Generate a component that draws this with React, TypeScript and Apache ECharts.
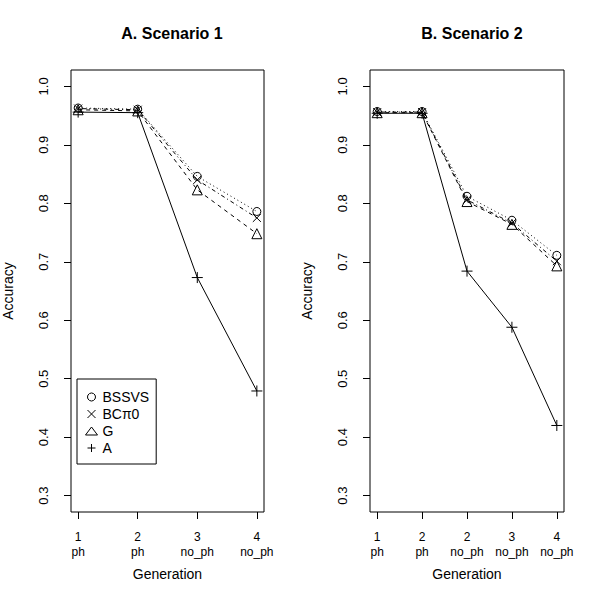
import React, { useEffect, useRef } from "react";
import * as echarts from "echarts";

const seriesNames = ["BSSVS", "BCπ0", "G", "A"];

const gen1 = [1, 2, 3, 4];
const gen1Labels = ["1\nph", "2\nph", "3\nno_ph", "4\nno_ph"];
const s1BSSVS = [0.963, 0.961, 0.846, 0.786];
const s1BCpi0 = [0.962, 0.960, 0.840, 0.775];
const s1G = [0.960, 0.958, 0.823, 0.748];
const s1A = [0.956, 0.955, 0.673, 0.479];

const gen2 = [1, 2, 3, 4, 5];
const gen2Labels = ["1\nph", "2\nph", "2\nno_ph", "3\nno_ph", "4\nno_ph"];
const s2BSSVS = [0.957, 0.957, 0.812, 0.771, 0.711];
const s2BCpi0 = [0.956, 0.956, 0.806, 0.766, 0.701];
const s2G = [0.955, 0.955, 0.803, 0.764, 0.693];
const s2A = [0.954, 0.954, 0.684, 0.588, 0.420];

const yTicks = [0.3, 0.4, 0.5, 0.6, 0.7, 0.8, 0.9, 1.0];

const FONT = "'Liberation Sans', Arial, Helvetica, sans-serif";

const XPATH = "path://M0,0L10,10M10,0L0,10";
const PLUSPATH = "path://M5,0L5,10M0,5L10,5";

const symbols = ["circle", XPATH, "triangle", PLUSPATH];
const symbolSizes = [8, 8, 10, 11];
const lineTypes: any[] = [[1, 3], [1, 3, 4, 3], [4, 4], "solid"];

export default function App() {
  const ref = useRef<HTMLDivElement>(null);
  useEffect(() => {
    if (!ref.current) return;
    const chart = echarts.init(ref.current, null, { renderer: "svg" });

    const mk = (xs: number[], ys: number[]) => xs.map((x, i) => [x, ys[i]]);
    const sets1 = [s1BSSVS, s1BCpi0, s1G, s1A];
    const sets2 = [s2BSSVS, s2BCpi0, s2G, s2A];

    const series: any[] = [];
    [sets1, sets2].forEach((sets, gi) => {
      const xs = gi === 0 ? gen1 : gen2;
      sets.forEach((ys, si) => {
        series.push({
          type: "line",
          name: seriesNames[si],
          xAxisIndex: gi,
          yAxisIndex: gi,
          data: mk(xs, ys),
          symbol: symbols[si],
          symbolSize: symbolSizes[si],
          showAllSymbol: true,
          itemStyle: { color: "transparent", borderColor: "#000", borderWidth: 1 },
          lineStyle: { color: "#000", width: 1, type: lineTypes[si] },
          emphasis: { disabled: true },
          z: 2 + si,
        });
      });
    });

    const xAxisBase = (min: number, max: number, vals: number[], labels: string[], gi: number) => ({
      type: "value",
      gridIndex: gi,
      min,
      max,
      name: "Generation",
      nameLocation: "middle",
      nameGap: 55,
      nameTextStyle: { fontFamily: FONT, fontSize: 14, color: "#000" },
      splitLine: { show: false },
      axisLine: { show: false },
      axisTick: { show: true, length: 7, inside: false, customValues: vals, lineStyle: { color: "#000" } },
      axisLabel: {
        customValues: vals,
        margin: 17,
        fontFamily: FONT,
        fontSize: 12,
        lineHeight: 15,
        color: "#000",
        formatter: (v: number) => labels[Math.round(v) - 1] ?? "",
      },
    });

    const yAxisBase = (gi: number) => ({
      type: "value",
      gridIndex: gi,
      min: 0.272,
      max: 1.028,
      name: "Accuracy",
      nameLocation: "middle",
      nameGap: 56,
      nameTextStyle: { fontFamily: FONT, fontSize: 14, color: "#000" },
      splitLine: { show: false },
      axisLine: { show: false },
      axisTick: { show: true, length: 7, customValues: yTicks, lineStyle: { color: "#000" } },
      axisLabel: {
        customValues: yTicks,
        rotate: 90,
        margin: 21,
        fontFamily: FONT,
        fontSize: 13,
        color: "#000",
        formatter: (v: number) => v.toFixed(1),
      },
    });

    chart.setOption({
      animation: false,
      backgroundColor: "#fff",
      title: [
        {
          text: "A. Scenario 1",
          left: 167,
          top: 20,
          textAlign: "center",
          textStyle: { fontFamily: FONT, fontSize: 16, fontWeight: "bold", color: "#000" },
        },
        {
          text: "B. Scenario 2",
          left: 467,
          top: 20,
          textAlign: "center",
          textStyle: { fontFamily: FONT, fontSize: 16, fontWeight: "bold", color: "#000" },
        },
      ],
      grid: [
        { left: 70, top: 70, width: 194, height: 442, show: true, borderColor: "#000", borderWidth: 1, backgroundColor: "transparent" },
        { left: 370, top: 70, width: 194, height: 442, show: true, borderColor: "#000", borderWidth: 1, backgroundColor: "transparent" },
      ],
      xAxis: [
        xAxisBase(0.88, 4.12, gen1, gen1Labels, 0),
        xAxisBase(0.84, 5.16, gen2, gen2Labels, 1),
      ],
      yAxis: [yAxisBase(0), yAxisBase(1)],
      legend: {
        left: 77,
        top: 379,
        orient: "vertical",
        selectedMode: false,
        backgroundColor: "#fff",
        borderColor: "#000",
        borderWidth: 1,
        borderRadius: 0,
        padding: [11, 7, 9, 8],
        itemWidth: 12,
        itemHeight: 8,
        itemGap: 3,
        textStyle: { fontFamily: FONT, fontSize: 14, lineHeight: 14, color: "#000" },
        itemStyle: { color: "transparent", borderColor: "#000", borderWidth: 1 },
        data: seriesNames.map((n, i) => ({ name: n, icon: symbols[i] })),
      },
      series,
    });

    return () => chart.dispose();
  }, []);

  return <div ref={ref} style={{ width: 600, height: 600, position: "absolute", left: 0, top: 0 }} />;
}
